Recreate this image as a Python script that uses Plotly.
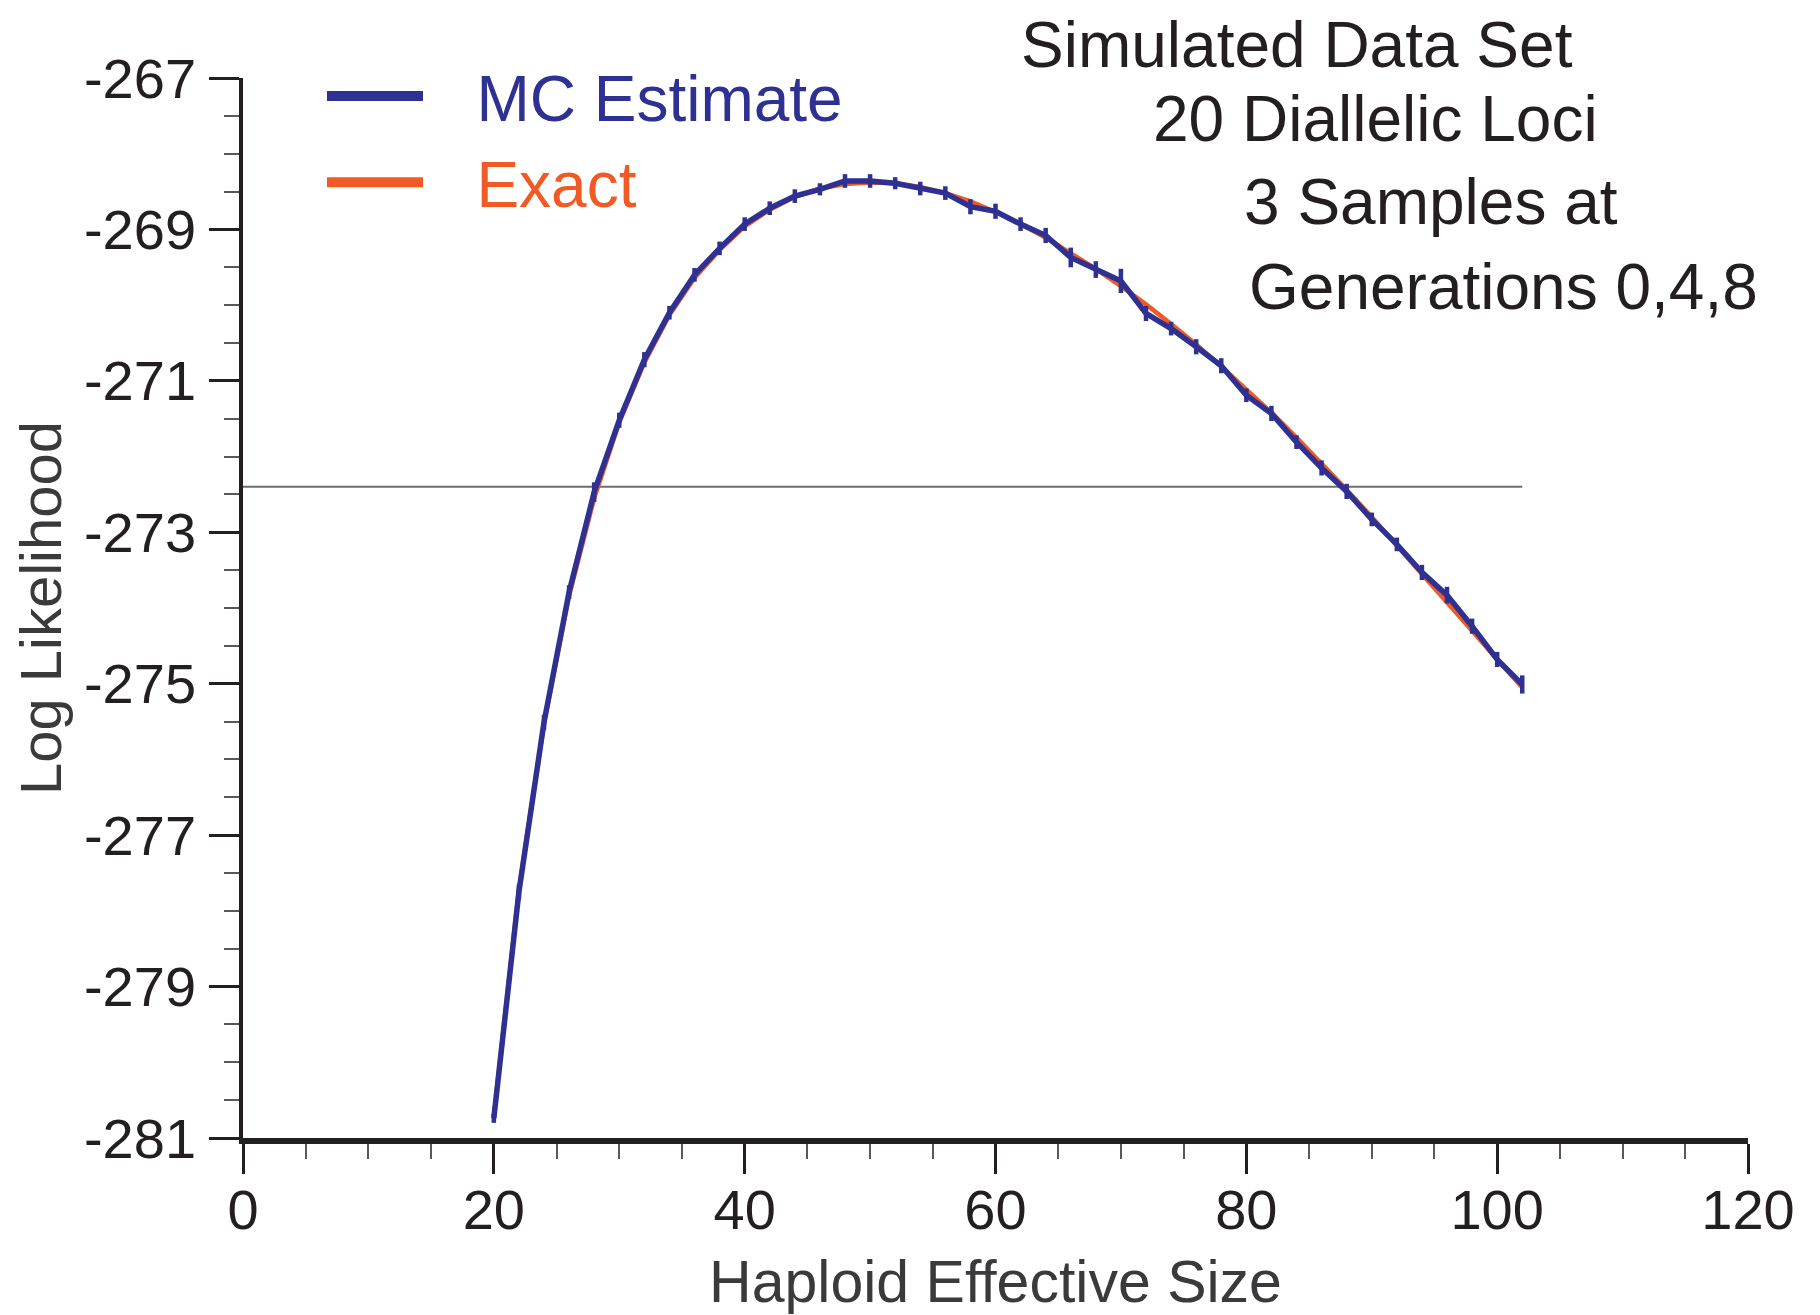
import plotly.graph_objects as go

# ---------------- data ----------------
ne_values = [20, 22, 24, 26, 28, 30, 32, 34, 36, 38, 40, 42, 44, 46, 48, 50, 52, 54, 56, 58, 60,
             62, 64, 66, 68, 70, 72, 74, 76, 78, 80, 82, 84, 86, 88, 90, 92, 94, 96, 98, 100, 102]

mc_loglik = [-280.74, -277.75, -275.51, -273.79, -272.47, -271.52, -270.72, -270.10, -269.60, -269.25,
             -268.93, -268.72, -268.56, -268.47, -268.36, -268.36, -268.39, -268.46, -268.52, -268.70,
             -268.76, -268.93, -269.08, -269.37, -269.53, -269.68, -270.11, -270.31, -270.55, -270.80,
             -271.19, -271.43, -271.81, -272.15, -272.46, -272.83, -273.16, -273.53, -273.83, -274.24,
             -274.68, -275.01]

mc_err = [0.06, 0.10, 0.10, 0.09, 0.13, 0.10, 0.10, 0.09, 0.09, 0.09,
          0.09, 0.09, 0.09, 0.08, 0.09, 0.09, 0.08, 0.09, 0.09, 0.10,
          0.10, 0.09, 0.10, 0.13, 0.11, 0.16, 0.10, 0.09, 0.10, 0.10,
          0.09, 0.10, 0.09, 0.10, 0.10, 0.09, 0.09, 0.10, 0.11, 0.10,
          0.10, 0.12]

exact_loglik = [-280.72, -277.72, -275.52, -273.84, -272.55, -271.55, -270.76, -270.13, -269.64, -269.27,
                -268.96, -268.74, -268.57, -268.46, -268.40, -268.38, -268.39, -268.44, -268.52, -268.63,
                -268.77, -268.93, -269.11, -269.31, -269.52, -269.75, -269.99, -270.25, -270.52, -270.81,
                -271.11, -271.42, -271.75, -272.09, -272.44, -272.80, -273.17, -273.54, -273.92, -274.30,
                -274.68, -275.05]

support_x = [0, 102]
support_y = [-272.4, -272.4]

x_tick_vals = [0, 20, 40, 60, 80, 100, 120]
x_tick_text = ["0", "20", "40", "60", "80", "100", "120"]
y_tick_vals = [-281, -279, -277, -275, -273, -271, -269, -267]
y_tick_text = ["-281", "-279", "-277", "-275", "-273", "-271", "-269", "-267"]

series_names = ["MC Estimate", "Exact"]
info_lines = ["Simulated Data Set", "20 Diallelic Loci", "3 Samples at", "Generations 0,4,8"]

# ---------------- style ----------------
OFF = 8  # default page body margin
W, H = 1820 - OFF, 1315 - OFF
ML, MT = 243 - OFF, 78 - OFF
MR, MB = 72, 177
PW, PH = W - ML - MR, H - MT - MB
BLUE = "#2E3192"
ORANGE = "#F15A24"
INK = "#231F20"
FONT = "Liberation Sans, Arial, sans-serif"


def px_x(x):
    # x in full-window pixels
    return (x - OFF - ML) / PW


def px_y(y):
    return (H - MB - (y - OFF)) / PH


fig = go.Figure()

fig.add_trace(go.Scatter(x=support_x, y=support_y, mode="lines",
                         line=dict(color="#6D6E71", width=2), showlegend=False, hoverinfo="skip"))

fig.add_trace(go.Scatter(x=ne_values, y=exact_loglik, mode="lines", name=series_names[1],
                         line=dict(color=ORANGE, width=4.5), showlegend=False))

fig.add_trace(go.Scatter(x=ne_values, y=mc_loglik, mode="lines", name=series_names[0],
                         line=dict(color=BLUE, width=5.5),
                         error_y=dict(type="data", array=mc_err, visible=True, color=BLUE,
                                      thickness=4.5, width=0),
                         showlegend=False))

# legend entries
GAP = "\u00a0\u00a0\u2009"
fig.add_trace(go.Scatter(x=[None], y=[None], mode="lines",
                         name="<span style='color:%s'>%s%s</span>" % (BLUE, GAP, series_names[0]),
                         line=dict(color=BLUE, width=10), legendrank=1))
fig.add_trace(go.Scatter(x=[None], y=[None], mode="lines",
                         name="<span style='color:%s'>%s%s</span>" % (ORANGE, GAP, series_names[1]),
                         line=dict(color=ORANGE, width=10), legendrank=2))

annotations = []
info_left = [1020, 1151, 1242, 1247]
info_mid = [None, 119, 202, 287]
for txt, lx, my in zip(info_lines, info_left, info_mid):
    if my is None:
        # first line: box anchored at the very top of the figure
        annotations.append(dict(text=txt, xref="paper", yref="paper", x=px_x(lx), y=px_y(OFF),
                                xanchor="left", yanchor="top", showarrow=False, borderpad=0,
                                font=dict(family=FONT, size=64, color=INK)))
    else:
        annotations.append(dict(text=txt, xref="paper", yref="paper", x=px_x(lx), y=px_y(my),
                                xanchor="left", yanchor="middle", showarrow=False,
                                font=dict(family=FONT, size=64, color=INK)))

fig.update_layout(
    width=W, height=H,
    margin=dict(l=ML, r=MR, t=MT, b=MB, autoexpand=False),
    paper_bgcolor="white", plot_bgcolor="white",
    font=dict(family=FONT, color=INK),
    showlegend=True,
    legend=dict(x=px_x(322), y=px_y(48), xanchor="left", yanchor="top",
                font=dict(family=FONT, size=64), itemwidth=96,
                bgcolor="rgba(0,0,0,0)", traceorder="normal"),
    annotations=annotations,
    xaxis=dict(range=[0, 120], tickvals=x_tick_vals, ticktext=x_tick_text,
               showgrid=False, zeroline=False, showline=True, linecolor=INK, linewidth=6,
               ticks="outside", ticklen=30, tickwidth=2.5, tickcolor=INK,
               tickfont=dict(family=FONT, size=56, color=INK), ticklabelstandoff=-12,
               minor=dict(dtick=5, ticks="outside", ticklen=15, tickwidth=2, tickcolor="#58595B"),
               title=dict(text="\u00a0\u2009Haploid Effective Size",
                          font=dict(family=FONT, size=59, color="#3A3A3C"), standoff=22)),
    yaxis=dict(range=[-281, -267], tickvals=y_tick_vals, ticktext=y_tick_text,
               showgrid=False, zeroline=False, showline=True, linecolor=INK, linewidth=3.5,
               ticks="outside", ticklen=30, tickwidth=2.5, tickcolor=INK,
               tickfont=dict(family=FONT, size=56, color=INK), ticklabelstandoff=2,
               minor=dict(dtick=0.5, ticks="outside", ticklen=15, tickwidth=2, tickcolor="#58595B"),
               title=dict(text="Log Likelihood", font=dict(family=FONT, size=58, color="#3A3A3C"),
                          standoff=20)),
)

fig.write_html("out.html")
